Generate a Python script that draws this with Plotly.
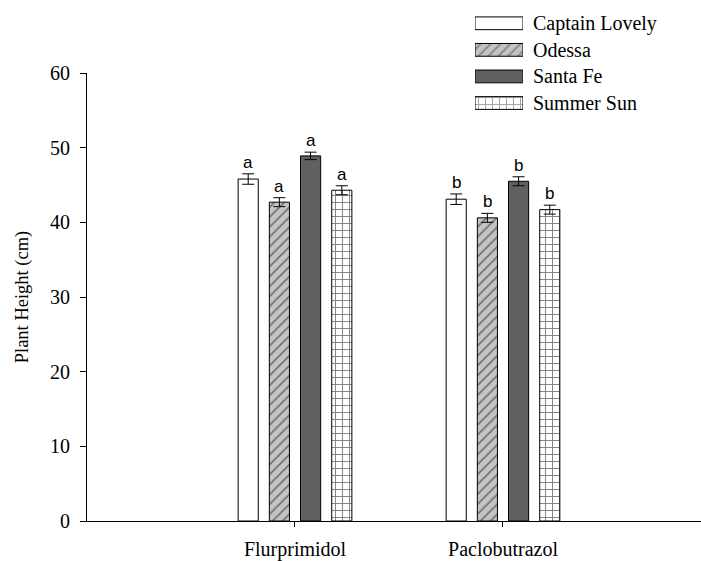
import plotly.graph_objects as go
import numpy as np

categories = ["Flurprimidol", "Paclobutrazol"]
series = ["Captain Lovely", "Odessa", "Santa Fe", "Summer Sun"]
captain_lovely = [45.8, 43.1]
odessa = [42.7, 40.6]
santa_fe = [48.9, 45.5]
summer_sun = [44.3, 41.7]
captain_lovely_err = [0.7, 0.7]
odessa_err = [0.6, 0.6]
santa_fe_err = [0.5, 0.6]
summer_sun_err = [0.6, 0.6]
letters = ["a", "b"]

values = [captain_lovely, odessa, santa_fe, summer_sun]
errors = [captain_lovely_err, odessa_err, santa_fe_err, summer_sun_err]

fills = ["white", "#c4c4c4", "#606060", "white"]
pshapes = ["", "/", "", "+"]
pfg = ["black", "#222222", "black", "black"]

BARGAP = 0.4
SERIF = "Liberation Serif, Times New Roman, serif"

fig = go.Figure()
xpos = np.arange(len(categories))
for k, name in enumerate(series):
    fig.add_trace(go.Bar(
        x=xpos, y=values[k], name=name, showlegend=False,
        marker=dict(color=fills[k], line=dict(color="black", width=1),
                    pattern=dict(shape=pshapes[k], fgcolor=pfg[k], bgcolor=fills[k],
                                 size=7, solidity=0.25)),
        error_y=dict(type="data", array=errors[k], color="black", thickness=1, width=6),
        xaxis="x", yaxis="y",
    ))

# significance letters above error bars
n = len(series)
slot = (1 - BARGAP) / n
annotations = []
for k in range(n):
    for i in range(len(categories)):
        annotations.append(dict(
            x=i + (k - (n - 1) / 2) * slot, y=values[k][i] + errors[k][i],
            xref="x", yref="y", text=letters[i], showarrow=False,
            yanchor="bottom", yshift=0,
            font=dict(family="Liberation Sans, Arial, sans-serif", size=17, color="black"),
        ))

# legend swatches drawn as horizontal bars on their own small axes
fig.add_trace(go.Bar(
    y=series, x=[1] * n, orientation="h", width=0.48, showlegend=False,
    hoverinfo="skip",
    marker=dict(color=fills, line=dict(color="black", width=1),
                pattern=dict(shape=pshapes, fgcolor=pfg, bgcolor=fills, size=7, solidity=0.25)),
    xaxis="x2", yaxis="y2",
))

H = 561
top, bot = 10, 40
plot_h = H - top - bot
ydom_top = (521 - 73) / plot_h

fig.update_layout(
    width=701, height=561,
    margin=dict(l=87, r=0, t=top, b=bot, autoexpand=False),
    paper_bgcolor="white", plot_bgcolor="white",
    barmode="group", bargap=BARGAP, bargroupgap=0.355,
    annotations=annotations,
    xaxis=dict(
        domain=[0, 1], range=[-1, 1.952], tickvals=list(xpos), ticktext=categories,
        showline=True, linecolor="black", linewidth=1, ticks="outside", ticklen=5,
        tickcolor="black", showgrid=False, zeroline=False,
        tickfont=dict(family=SERIF, size=20, color="black"), ticklabelstandoff=5,
        anchor="y", automargin=False,
    ),
    yaxis=dict(
        domain=[0, ydom_top], range=[0, 60], dtick=10,
        showline=True, linecolor="black", linewidth=1, ticks="outside", ticklen=6,
        tickcolor="black", showgrid=False, zeroline=False,
        tickfont=dict(family=SERIF, size=20, color="black"), ticklabelstandoff=6,
        title=dict(text="Plant Height (cm)", font=dict(family=SERIF, size=18.5, color="black"),
                   standoff=16),
        anchor="x", automargin=False,
    ),
    xaxis2=dict(
        domain=[(475 - 87) / 614, (523 - 87) / 614], range=[0, 1],
        visible=False, anchor="y2", fixedrange=True,
    ),
    yaxis2=dict(
        domain=[(521 - 116.3) / plot_h, 1.0], autorange="reversed",
        side="right", anchor="x2", showline=False, showgrid=False, zeroline=False,
        ticks="", tickfont=dict(family=SERIF, size=20, color="black"),
        ticklabelstandoff=9, fixedrange=True, automargin=False,
    ),
)

fig.write_html("out.html")
